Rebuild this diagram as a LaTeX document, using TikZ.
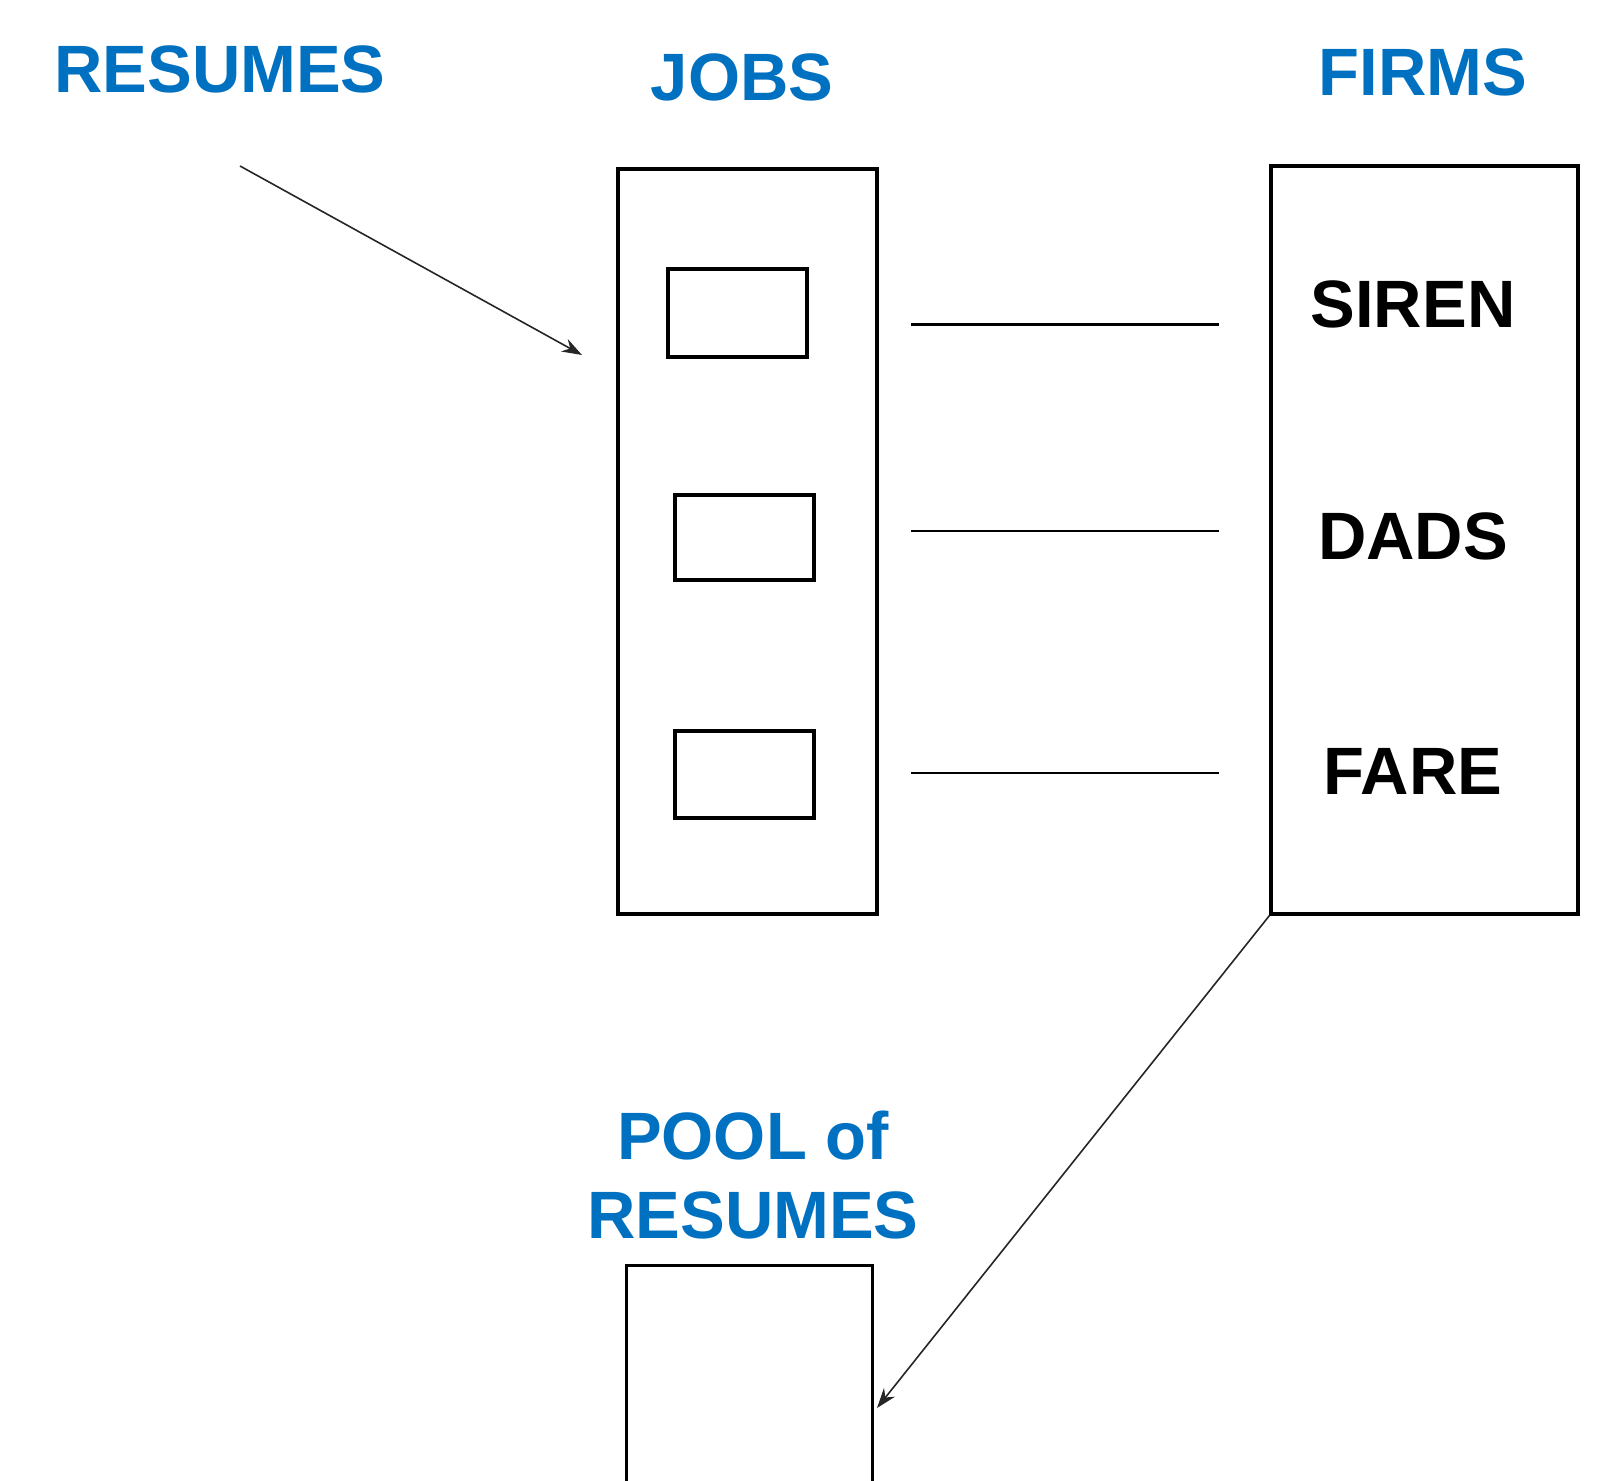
\documentclass[tikz,border=0pt]{standalone}
\usepackage{fontspec}
\setmainfont{Liberation Sans}
\usetikzlibrary{arrows.meta}
\definecolor{headblue}{HTML}{0070C0}
\tikzset{
  frame/.style={draw=black, line width=1.6pt, rectangle, inner sep=0pt},
  slot/.style={frame, line width=1.6pt},
  heading/.style={text=headblue, font=\fontsize{33.5}{38}\selectfont\bfseries, inner sep=0pt, align=center},
  firmname/.style={text=black, font=\fontsize{33.5}{38}\selectfont\bfseries, inner sep=0pt},
  link/.style={draw=black, line width=1.4pt},
  flow/.style={draw=black!85, line width=0.8pt, -{Stealth[length=10pt,width=7pt]}}
}
\begin{document}
\begin{tikzpicture}[x=0.5pt,y=-0.5pt]
  \useasboundingbox (0,0) rectangle (1605,1481);
  \clip (0,0) rectangle (1605,1481);

  % column headings
  \node[heading] (hres) at (220,69) {RESUMES};
  \node[heading] (hjobs) at (742,77) {JOBS};
  \node[heading] (hfirms) at (1423,72) {FIRMS};

  % jobs column with its three slots
  \node[frame, minimum width=129.5pt, minimum height=372.5pt] (jobs) at (747.5,541.5) {};
  \node[slot, minimum width=69.5pt, minimum height=44pt] (j1) at (737.5,313) {};
  \node[slot, minimum width=69.5pt, minimum height=42.5pt] (j2) at (744.5,537.5) {};
  \node[slot, minimum width=69.5pt, minimum height=43.5pt] (j3) at (744.5,774.5) {};

  % firms column
  \node[frame, minimum width=153.5pt, minimum height=374pt] (firms) at (1424.5,540) {};
  \node[firmname] (siren) at (1413,304) {SIREN};
  \node[firmname] (dads) at (1413,536) {DADS};
  \node[firmname] (fare) at (1413,771) {FARE};

  % links from jobs to firms
  \coordinate (a1) at (911,324.5);  \coordinate (b1) at (1219,324.5);
  \coordinate (a2) at (911,531);    \coordinate (b2) at (1219,531);
  \coordinate (a3) at (911,773);    \coordinate (b3) at (1219,773);
  \draw[link] (a1) -- (b1);
  \draw[link] (a2) -- (b2);
  \draw[link] (a3) -- (b3);

  % pool of resumes
  \node[heading] (hpool) at (753,1175) {POOL of\\[1.5pt]RESUMES};
  \node[frame, minimum width=123pt, minimum height=130pt, anchor=north west] (pool) at (625,1264) {};

  % flows
  \coordinate (rin) at (240,166);
  \coordinate (jin) at (582,355);
  \draw[flow] (rin) -- (jin);
  \coordinate (pin) at (877,1408);
  \draw[flow] (firms.south west) -- (pin);
\end{tikzpicture}
\end{document}
